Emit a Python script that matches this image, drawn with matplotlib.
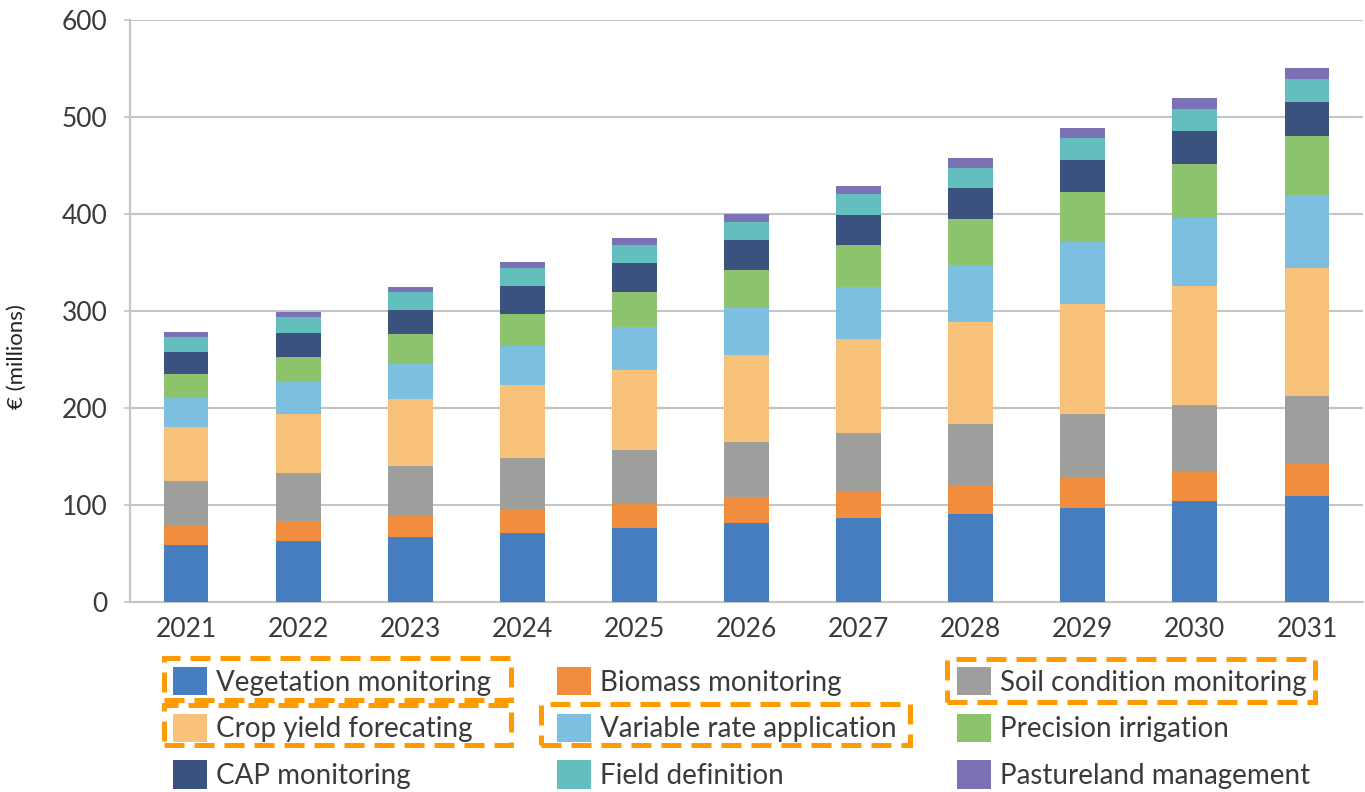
import numpy as np
import matplotlib.pyplot as plt
from matplotlib.patches import Patch, Rectangle

plt.rcParams['font.family'] = ['Lato', 'DejaVu Sans']

years = ['2021', '2022', '2023', '2024', '2025', '2026', '2027', '2028', '2029', '2030', '2031']

# € millions per application, per year
vegetation = [58.6, 62.7, 66.8, 71.2, 76.0, 81.8, 86.3, 91.2, 97.4, 103.7, 109.6]
biomass = [19.8, 21.2, 22.9, 24.4, 25.7, 26.1, 28.1, 29.0, 30.9, 31.2, 33.0]
soil = [46.3, 48.7, 50.7, 52.4, 54.8, 57.1, 59.9, 63.6, 65.5, 68.0, 69.9]
crop_yield = [55.8, 60.9, 69.3, 76.0, 82.2, 89.2, 97.0, 104.8, 113.2, 122.5, 132.0]
variable_rate = [30.2, 33.2, 35.9, 40.4, 45.3, 48.6, 53.7, 58.8, 64.3, 70.6, 75.4]
irrigation = [23.9, 25.7, 30.9, 32.6, 36.0, 39.7, 43.0, 47.8, 51.5, 55.1, 60.0]
cap = [23.0, 25.1, 24.9, 29.1, 29.0, 30.5, 31.0, 31.3, 33.1, 34.2, 36.0]
field = [15.4, 15.9, 18.6, 17.8, 19.2, 19.2, 21.7, 20.9, 22.1, 23.2, 23.5]
pasture = [5.0, 6.0, 5.0, 6.1, 6.9, 7.6, 7.9, 10.3, 11.0, 11.0, 11.4]

series = [vegetation, biomass, soil, crop_yield, variable_rate, irrigation, cap, field, pasture]
labels = ['Vegetation monitoring', 'Biomass monitoring', 'Soil condition monitoring',
          'Crop yield forecating', 'Variable rate application', 'Precision irrigation',
          'CAP monitoring', 'Field definition', 'Pastureland management']
colors = ['#467EC0', '#F08D3E', '#9E9E9D', '#F9C27A', '#7DBFE1',
          '#8DC36C', '#3C527E', '#62BFBE', '#7B72B5']

text_color = '#3a3a3a'
grid_color = '#c4c4c4'

fig = plt.figure(figsize=(13.65, 7.92), dpi=100)
ax = fig.add_axes([130 / 1365, 1 - 602 / 792, 1233 / 1365, 582 / 792])

x = np.arange(len(years))
bottom = np.zeros(len(years))
handles = []
for vals, lab, col in zip(series, labels, colors):
    ax.bar(x, vals, width=0.4, bottom=bottom, color=col, label=lab, zorder=3)
    bottom += np.array(vals)
    handles.append(Patch(facecolor=col))

ax.set_xlim(-0.5, len(years) - 0.5)
ax.set_ylim(0, 600)
ax.set_yticks(np.arange(0, 601, 100))
ax.set_xticks(x)
ax.set_xticklabels(years)
ax.grid(axis='y', color=grid_color, linewidth=1.5, zorder=0)
ax.tick_params(axis='x', length=0, labelsize=19, colors=text_color, pad=11)
ax.tick_params(axis='y', length=4, width=1.2, color=grid_color, labelsize=19,
               labelcolor=text_color, pad=12)
for side in ['top', 'right']:
    ax.spines[side].set_visible(False)
ax.spines['left'].set_color(grid_color)
ax.spines['left'].set_linewidth(1.5)
ax.spines['bottom'].set_color(grid_color)
ax.spines['bottom'].set_linewidth(1.5)
ax.set_ylabel('€ (millions)', fontsize=16, color='#222222')
ax.yaxis.set_label_coords(-0.0835, 0.421)

# legend: three columns placed separately
col_x = [173 / 1365, 557 / 1365, 957 / 1365]
for c in range(3):
    idx = [c, c + 3, c + 6]
    fig.legend([handles[i] for i in idx], [labels[i] for i in idx],
               loc='upper left', bbox_to_anchor=(col_x[c], 1 - 667 / 792),
               frameon=False, fontsize=20, labelcolor=text_color,
               handlelength=1.22, handleheight=1.2, handletextpad=0.33,
               labelspacing=0.65, borderpad=0, borderaxespad=0)

# dashed highlight boxes around some legend entries
boxes = [(164, 658, 347, 42), (164, 705, 347, 40), (541, 704, 369, 41), (947, 659, 368, 43)]
for bx, by, bw, bh in boxes:
    fig.patches.append(Rectangle((bx / 1365, 1 - (by + bh) / 792), bw / 1365, bh / 792,
                                 transform=fig.transFigure, fill=False,
                                 edgecolor='#FF9A00', linewidth=3.6,
                                 linestyle=(0, (4, 2))))

fig.savefig('out.png', dpi=100)
